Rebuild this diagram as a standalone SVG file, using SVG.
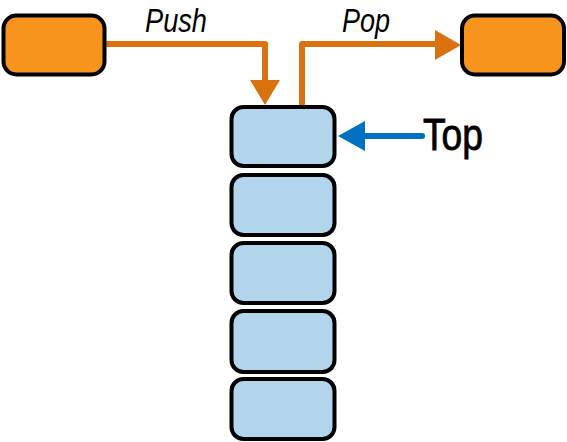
<svg xmlns="http://www.w3.org/2000/svg" width="567" height="442" viewBox="0 0 567 442">
<style>
.orange{fill:#F7941E;stroke:#000;stroke-width:4}
.cell{fill:#B3D5EB;stroke:#000;stroke-width:4}
.conn{fill:none;stroke:#D9720F;stroke-width:6;stroke-linejoin:round}
.lbl{font-family:"Liberation Sans",Arial,sans-serif;font-style:italic;font-size:33px;fill:#000}
.top{font-family:"Liberation Sans",Arial,sans-serif;font-size:44px;fill:#000;stroke:#000;stroke-width:0.8}
</style>
<rect width="567" height="442" fill="#fff"/>
<g id="connectors">
<path class="conn" d="M105,44 H265 V82"/>
<polygon points="250,80 280,80 265,105" fill="#D9720F"/>
<path class="conn" d="M302,106 V44 H437"/>
<polygon points="435,30 435,60 461,45" fill="#D9720F"/>
<line x1="422" y1="136" x2="362" y2="136" stroke="#0070C0" stroke-width="6" stroke-linecap="round"/>
<polygon points="338,136 365,121 365,151" fill="#0070C0"/>
</g>
<g id="source"><rect class="orange" x="3.5" y="15.5" width="101" height="59" rx="13"/></g>
<g id="dest"><rect class="orange" x="462" y="15.5" width="102" height="59" rx="13"/></g>
<g id="cell1"><rect class="cell" x="231.5" y="107" width="103" height="59" rx="12"/></g>
<g id="cell2"><rect class="cell" x="231.5" y="175" width="103" height="60" rx="12"/></g>
<g id="cell3"><rect class="cell" x="231.5" y="243" width="103" height="60" rx="12"/></g>
<g id="cell4"><rect class="cell" x="231.5" y="311" width="103" height="61" rx="12"/></g>
<g id="cell5"><rect class="cell" x="231.5" y="379" width="103" height="60" rx="12"/></g>
<g id="labels">
<text class="lbl" x="145" y="32" textLength="62" lengthAdjust="spacingAndGlyphs">Push</text>
<text class="lbl" x="342" y="32" textLength="48" lengthAdjust="spacingAndGlyphs">Pop</text>
<text class="top" x="423" y="150" textLength="60" lengthAdjust="spacingAndGlyphs">Top</text>
</g>
</svg>
